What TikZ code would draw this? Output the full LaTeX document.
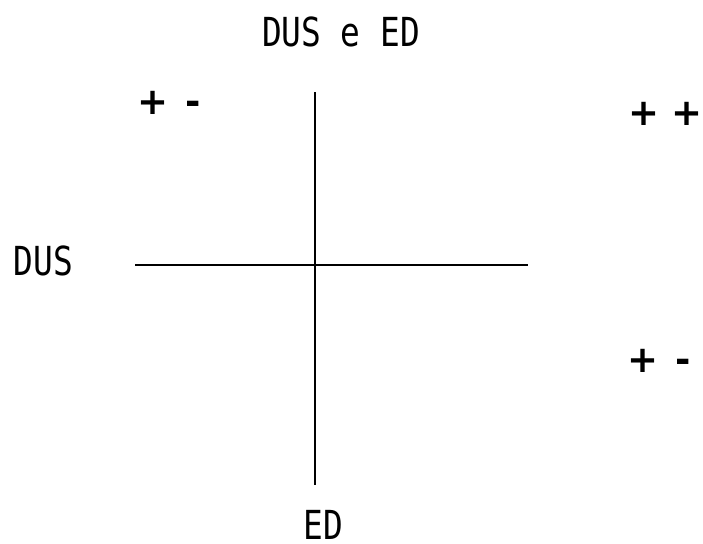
\documentclass[tikz,border=0pt]{standalone}
\usepackage{fontspec}
\newfontfamily\lblfont[FakeStretch=0.82]{DejaVu Sans Mono}
\newfontfamily\sgnfont{DejaVu Sans Bold}
\begin{document}
\begin{tikzpicture}[x=1pt,y=-1pt,
  lbl/.style={inner sep=0pt,anchor=base,font=\lblfont\fontsize{40}{48}\selectfont},
  sgn/.style={inner sep=0pt,anchor=base,font=\sgnfont\fontsize{37}{44}\selectfont},
  axis/.style={line width=2pt,black}]
\useasboundingbox (0,0) rectangle (703,543);
\node[lbl] (top) at (341,46) {DUS e ED};
\node[lbl] (left) at (43.5,275) {DUS};
\node[lbl] (bottom) at (323.5,539) {ED};
\node[sgn] (tl) at (169,114) {+\hspace{4pt} -};
\node[sgn] (tr) at (665.5,125) {+ +};
\node[sgn] (br) at (659,372) {+\hspace{4pt} -};
\coordinate (vt) at (315,92);
\coordinate (vb) at (315,485);
\coordinate (hl) at (135,265);
\coordinate (hr) at (528,265);
\draw[axis] (vt) -- (vb);
\draw[axis] (hl) -- (hr);
\end{tikzpicture}
\end{document}
